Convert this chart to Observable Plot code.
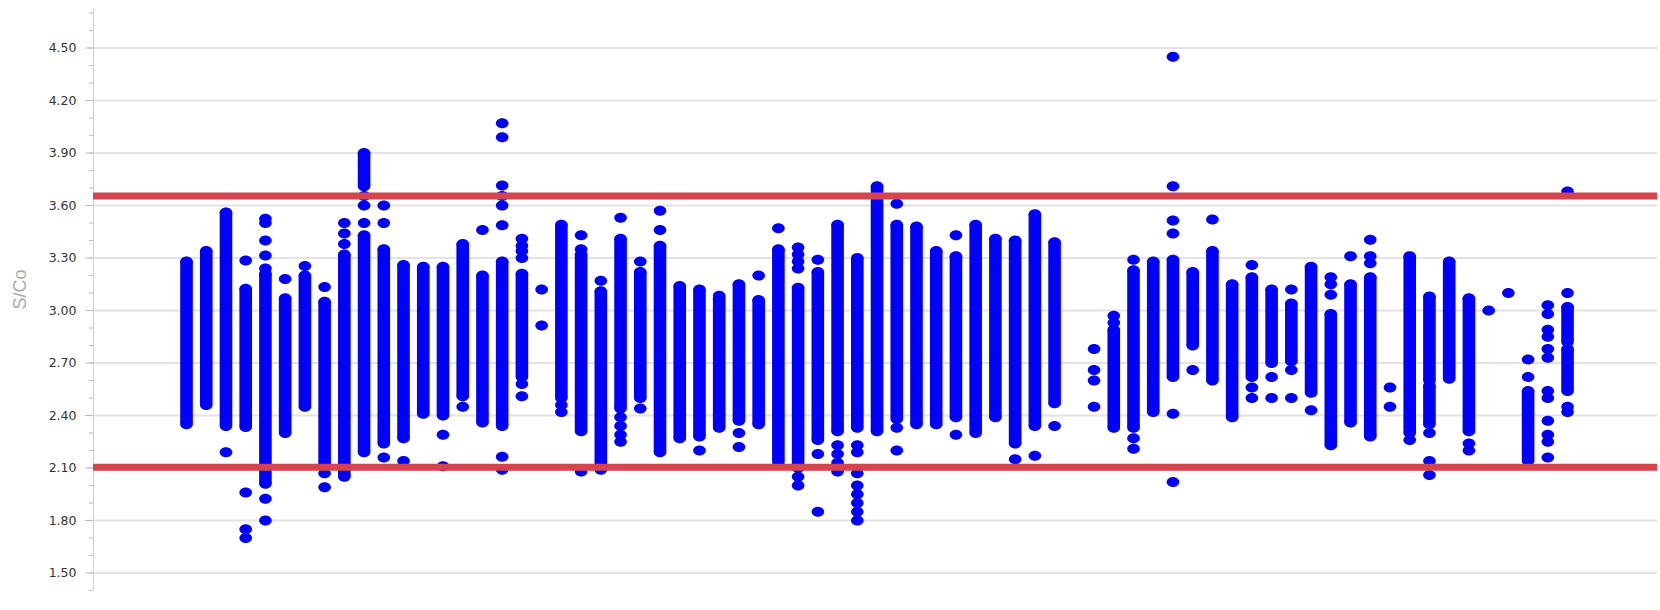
<!DOCTYPE html>
<html>
<head>
<meta charset="utf-8">
<script src="https://cdn.jsdelivr.net/npm/d3@7"></script>
<script src="https://cdn.jsdelivr.net/npm/@observablehq/plot@0.6"></script>
<style>
  html, body { margin: 0; padding: 0; background: #fff; }
</style>
</head>
<body>
<div id="chart"></div>
<script>
// ---- data ----
// y-axis ticks (S/Co)
const majorTicks = [1.5, 1.8, 2.1, 2.4, 2.7, 3.0, 3.3, 3.6, 3.9, 4.2, 4.5];
const minorTicks = [1.4, 1.5, 1.6, 1.7, 1.8, 1.9, 2.0, 2.1, 2.2, 2.3, 2.4, 2.5, 2.6, 2.7, 2.8, 2.9, 3.0, 3.1, 3.2, 3.3, 3.4, 3.5, 3.6, 3.7, 3.8, 3.9, 4.0, 4.1, 4.2, 4.3, 4.4, 4.5, 4.6, 4.7];

// control limits
const upperLimit = 3.655;
const lowerLimit = 2.105;

// dense runs of results: [run, top S/Co, bottom S/Co]
const segments = [
  [1, 3.28, 2.35], [2, 3.34, 2.46], [3, 3.56, 2.34], [4, 3.125, 2.335], [5, 3.21, 2.01],
  [6, 3.07, 2.30], [7, 3.20, 2.45], [8, 3.05, 2.12], [9, 3.32, 2.05],
  [10, 3.90, 3.71], [10, 3.43, 2.19], [11, 3.35, 2.24], [12, 3.26, 2.27], [13, 3.25, 2.41],
  [14, 3.25, 2.40], [15, 3.38, 2.51], [16, 3.20, 2.36], [17, 3.28, 2.34], [18, 3.21, 2.62],
  [20, 3.49, 2.50], [21, 3.32, 2.31], [22, 3.11, 2.09], [23, 3.41, 2.44], [24, 3.22, 2.50],
  [25, 3.37, 2.19], [26, 3.14, 2.27], [27, 3.12, 2.28], [28, 3.07, 2.33], [29, 3.15, 2.37],
  [30, 3.06, 2.35], [31, 3.35, 2.14], [32, 3.13, 2.10], [33, 3.22, 2.26], [34, 3.49, 2.31],
  [35, 3.30, 2.33], [36, 3.71, 2.31], [37, 3.49, 2.38], [38, 3.48, 2.35], [39, 3.34, 2.35],
  [40, 3.31, 2.39], [41, 3.49, 2.30], [42, 3.41, 2.39], [43, 3.40, 2.24], [44, 3.55, 2.34],
  [45, 3.39, 2.47],
  [48, 2.89, 2.33], [49, 3.23, 2.33], [50, 3.28, 2.42], [51, 3.29, 2.62], [52, 3.22, 2.80],
  [53, 3.34, 2.60], [54, 3.15, 2.39], [55, 3.19, 2.62], [56, 3.12, 2.70], [57, 3.04, 2.71],
  [58, 3.25, 2.53], [59, 2.98, 2.23], [60, 3.15, 2.36], [61, 3.19, 2.28], [63, 3.31, 2.30],
  [64, 3.08, 2.60], [64, 2.57, 2.35], [65, 3.28, 2.61], [66, 3.07, 2.31], [69, 2.54, 2.14],
  [71, 3.02, 2.82], [71, 2.78, 2.54]
];

// isolated results: [run, S/Co]
const points = [
  [3, 2.19],
  [4, 3.286], [4, 1.96], [4, 1.75], [4, 1.70],
  [5, 3.525], [5, 3.50], [5, 3.40], [5, 3.315], [5, 3.24], [5, 1.925], [5, 1.80],
  [6, 3.18], [7, 3.255],
  [8, 3.134], [8, 2.07], [8, 1.99],
  [9, 3.50], [9, 3.44], [9, 3.38],
  [10, 3.655], [10, 3.60], [10, 3.50],
  [11, 3.60], [11, 3.50], [11, 2.16],
  [12, 2.14], [14, 2.29], [14, 2.11], [15, 2.45], [16, 3.46],
  [17, 4.07], [17, 3.99], [17, 3.715], [17, 3.655], [17, 3.60], [17, 3.487], [17, 2.165], [17, 2.09],
  [18, 3.41], [18, 3.37], [18, 3.34], [18, 3.30], [18, 2.58], [18, 2.51],
  [19, 3.12], [19, 2.915],
  [20, 2.46], [20, 2.42],
  [21, 3.43], [21, 3.35], [21, 2.08],
  [22, 3.17],
  [23, 3.53], [23, 2.39], [23, 2.34], [23, 2.29], [23, 2.25],
  [24, 3.28], [24, 2.44],
  [25, 3.57], [25, 3.46],
  [27, 2.20], [28, 3.085], [29, 2.30], [29, 2.22], [30, 3.20],
  [31, 3.47], [31, 2.12],
  [32, 3.36], [32, 3.32], [32, 3.28], [32, 3.24], [32, 2.05], [32, 2.00],
  [33, 3.29], [33, 2.18], [33, 1.85],
  [34, 2.23], [34, 2.18], [34, 2.13], [34, 2.08],
  [35, 2.23], [35, 2.19], [35, 2.07], [35, 2.00], [35, 1.95], [35, 1.90], [35, 1.85], [35, 1.80],
  [37, 3.61], [37, 2.33], [37, 2.20],
  [40, 3.43], [40, 2.29], [43, 2.15], [44, 2.17], [45, 2.34],
  [47, 2.78], [47, 2.66], [47, 2.60], [47, 2.45],
  [48, 2.97], [48, 2.93],
  [49, 3.29], [49, 2.27], [49, 2.21],
  [51, 4.45], [51, 3.71], [51, 3.515], [51, 3.44], [51, 2.41], [51, 2.02],
  [52, 2.66], [53, 3.52],
  [55, 3.26], [55, 2.56], [55, 2.50],
  [56, 2.62], [56, 2.50],
  [57, 3.12], [57, 2.66], [57, 2.50],
  [58, 2.43],
  [59, 3.19], [59, 3.15], [59, 3.09],
  [60, 3.31],
  [61, 3.405], [61, 3.31], [61, 3.27],
  [62, 2.56], [62, 2.45],
  [63, 2.26],
  [64, 2.30], [64, 2.14], [64, 2.06],
  [66, 2.24], [66, 2.20],
  [67, 3.00], [68, 3.10],
  [69, 2.72], [69, 2.62],
  [70, 3.03], [70, 2.98], [70, 2.89], [70, 2.85], [70, 2.78], [70, 2.73], [70, 2.54], [70, 2.50],
  [70, 2.37], [70, 2.29], [70, 2.25], [70, 2.16],
  [71, 3.68], [71, 3.10], [71, 2.45], [71, 2.42]
];

// ---- chart ----
const xDomain = [-3.714, 75.56];
const yDomain = [1.40, 4.726];
const blue = "#0000ff";

// elliptical marker (slightly wider than tall, as in the reference)
const ellipse = {
  draw(ctx, size) {
    const r = Math.sqrt(size / Math.PI);
    const rx = r * 1.26, ry = r, k = 0.5523;
    ctx.moveTo(rx, 0);
    ctx.bezierCurveTo(rx, ry * k, rx * k, ry, 0, ry);
    ctx.bezierCurveTo(-rx * k, ry, -rx, ry * k, -rx, 0);
    ctx.bezierCurveTo(-rx, -ry * k, -rx * k, -ry, 0, -ry);
    ctx.bezierCurveTo(rx * k, -ry, rx, -ry * k, rx, 0);
    ctx.closePath();
  }
};

const segEnds = segments.flatMap(d => [[d[0], d[1]], [d[0], d[2]]]);

const chart = Plot.plot({
  width: 1660,
  height: 610,
  marginLeft: 93,
  marginRight: 3,
  marginTop: 8,
  marginBottom: 20,
  style: {fontFamily: "DejaVu Sans, sans-serif", fontSize: "12.5px", background: "#fff"},
  x: {domain: xDomain, axis: null},
  y: {domain: yDomain, axis: null},
  marks: [
    Plot.gridY(majorTicks, {stroke: "#e3e3e3", strokeOpacity: 1, strokeWidth: 2}),
    Plot.ruleX([xDomain[0]], {stroke: "#cfcfcf", strokeWidth: 1}),
    Plot.axisY(minorTicks, {tickSize: 4, tickFormat: () => "", stroke: "#bdbdbd", label: null}),
    Plot.axisY(majorTicks, {tickSize: 8, tickPadding: 9, tickFormat: d3.format(".2f"), stroke: "#bdbdbd", fill: "#333", label: null}),
    Plot.text(["S/Co"], {frameAnchor: "left", dx: -73, dy: 10, rotate: -90, fill: "#ababab", fontSize: 18, fontFamily: "Liberation Sans, sans-serif"}),
    Plot.ruleX(segments, {x: d => d[0], y1: d => d[1], y2: d => d[2], stroke: blue, strokeWidth: 12.6, strokeLinecap: "butt"}),
    Plot.dot(segEnds, {x: d => d[0], y: d => d[1], r: 5, symbol: ellipse, fill: blue, stroke: "none"}),
    Plot.dot(points, {x: d => d[0], y: d => d[1], r: 5, symbol: ellipse, fill: blue, stroke: "none"}),
    Plot.ruleY([upperLimit, lowerLimit], {stroke: "#d5444c", strokeWidth: 7})
  ]
});

document.getElementById("chart").appendChild(chart);
</script>
</body>
</html>
